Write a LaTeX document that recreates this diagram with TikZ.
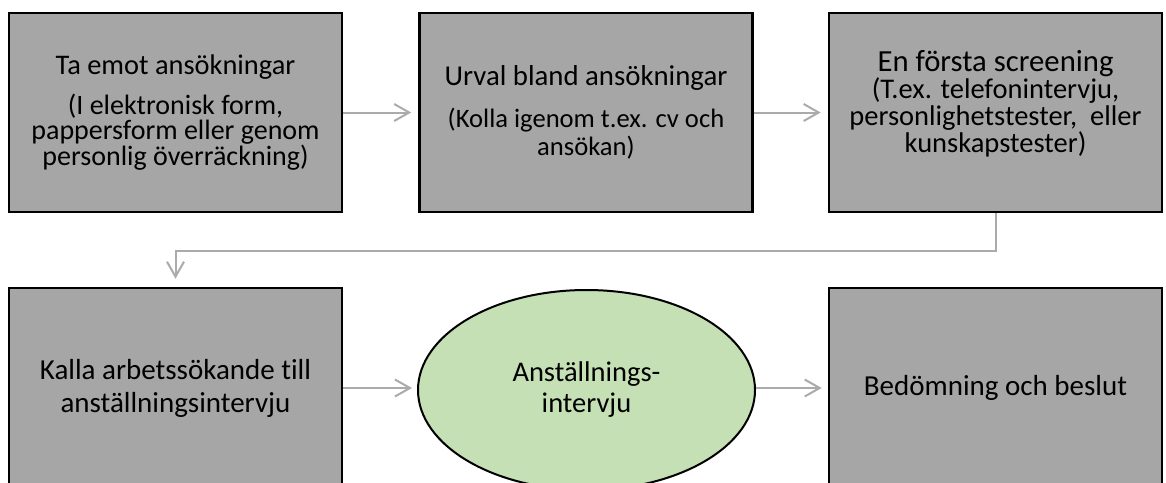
\documentclass[tikz,border=0pt]{standalone}
\usepackage{fontspec}
\setmainfont{Carlito}[Ligatures=NoCommon]
\usetikzlibrary{arrows.meta,shapes.geometric,calc}
\definecolor{boxgray}{HTML}{A6A6A6}
\definecolor{arrgray}{HTML}{ABABAB}
\definecolor{ellgreen}{HTML}{C5E0B4}
\newcommand{\ttl}[2]{{\fontsize{#1}{#1}\selectfont #2}}
\begin{document}
\begin{tikzpicture}[x=1pt,y=-1pt,
  stepbox/.style={draw=black,line width=2.6pt,fill=boxgray,minimum width=333pt,minimum height=199pt,inner sep=0pt,align=center,text=black},
  ellbox/.style={ellipse,draw=black,line width=2pt,fill=ellgreen,minimum width=337pt,minimum height=200pt,inner sep=0pt,align=center,text=black},
  arr/.style={draw=arrgray,line width=2pt,-{Straight Barb[length=15pt,width=17pt,line width=2pt]}},
  subA/.style={font=\fontsize{28}{25.5}\selectfont},
  subB/.style={font=\fontsize{26.6}{28}\selectfont},
  subC/.style={font=\fontsize{28.5}{27}\selectfont},
  big/.style={font=\fontsize{29}{33}\selectfont}]
\useasboundingbox (0,0) rectangle (1166,482);
\clip (0,0) rectangle (1166,482);
\node[stepbox,subA] (b1) at (175.5,112.5) {\ttl{28.4}{Ta emot ansökningar}\\[14.5pt](I elektronisk form,\\pappersform eller genom\\personlig överräckning)};
\node[stepbox,subB] (b2) at (586,112.5) {\ttl{28.8}{Urval bland ansökningar}\\[14pt](Kolla igenom t.ex. cv och\\ansökan)};
\node[stepbox,subC] (b3) at (995.5,112.5) {\ttl{30.7}{En första screening}\\(T.ex. telefonintervju,\\personlighetstester,\ \ eller\\kunskapstester)\\[-5pt]\mbox{}};
\node[stepbox,big,minimum height=200pt] (b4) at (175.5,388) {Kalla arbetssökande till\\anställningsintervju};
\node[ellbox,font=\fontsize{28.5}{31}\selectfont] (e) at (586.5,390) {Anställnings-\\intervju};
\node[stepbox,big,minimum height=200pt] (b5) at (995.5,388) {Bedömning och beslut};
\draw[arr,shorten >=7pt] (b1) -- (b2);
\draw[arr,shorten >=7pt] (b2) -- (b3);
\draw[arr,shorten >=8pt] (b3.south) -- ++(0,38) -| (b4.north);
\draw[arr,shorten >=5pt] (b4.east) -- (e.west |- b4.east);
\draw[arr,shorten >=6pt] (e.east |- b5.west) -- (b5.west);
\end{tikzpicture}
\end{document}
